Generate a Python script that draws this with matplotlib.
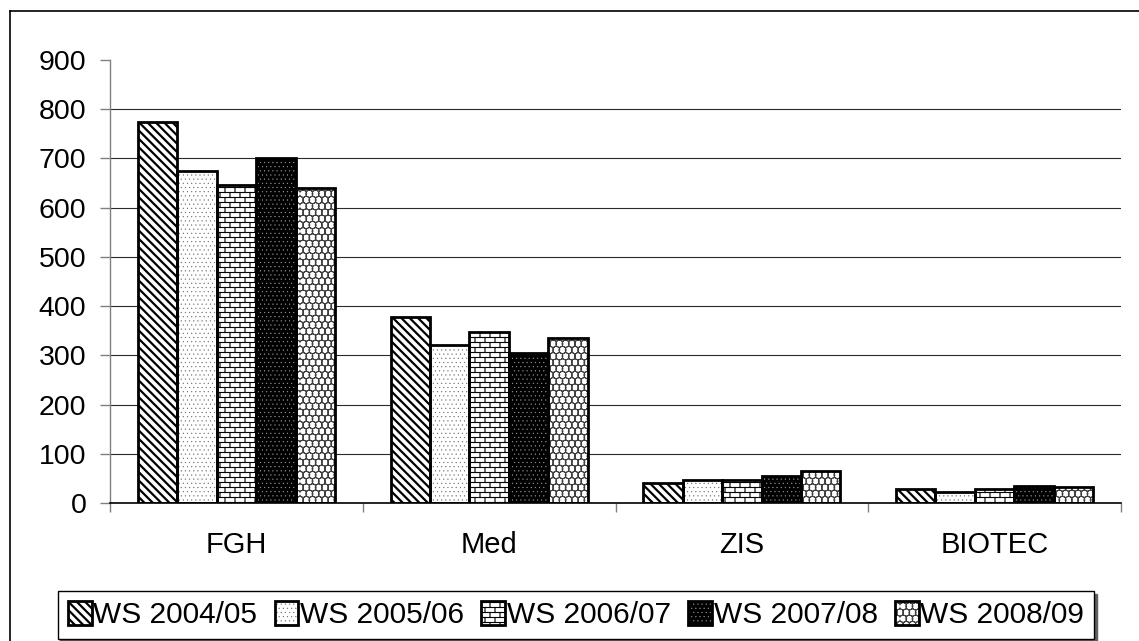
import numpy as np
import matplotlib
matplotlib.use('Agg')
import matplotlib.pyplot as plt
import matplotlib.hatch as mhatch
from matplotlib.path import Path
from matplotlib.patches import Patch
from matplotlib.lines import Line2D
from matplotlib.legend_handler import HandlerTuple
from matplotlib.ticker import FixedLocator

# ---------------- data ----------------
categories = ['FGH', 'Med', 'ZIS', 'BIOTEC']
series_names = ['WS 2004/05', 'WS 2005/06', 'WS 2006/07', 'WS 2007/08', 'WS 2008/09']
ws_2004_05 = [774, 378, 40, 28]
ws_2005_06 = [675, 322, 47, 23]
ws_2006_07 = [646, 347, 46, 28]
ws_2007_08 = [701, 305, 54, 35]
ws_2008_09 = [640, 335, 66, 33]
y_ticks = [0, 100, 200, 300, 400, 500, 600, 700, 800, 900]
series = [ws_2004_05, ws_2005_06, ws_2006_07, ws_2007_08, ws_2008_09]

# ---------------- custom hatch patterns ----------------
BRICK = '+-'
WEAVE = 'oO'


def _brick_path(rows=20, cols=10):
    verts, codes = [], []
    for i in range(-1, rows):
        y0 = (i + 0.5) / rows
        y1 = (i + 1.5) / rows
        if i >= 0:
            verts += [(0.0, y0), (1.0, y0)]
            codes += [Path.MOVETO, Path.LINETO]
        shift = 0.5 if i % 2 else 0.0
        for j in range(cols + 1):
            x = (j + shift) / cols
            if x > 1.0:
                continue
            verts += [(x, y0), (x, y1)]
            codes += [Path.MOVETO, Path.LINETO]
    return Path(np.array(verts), np.array(codes, dtype=Path.code_type))


def _weave_path(n=16, r=0.6):
    circ = Path.unit_circle()
    cv = circ.vertices
    ring_v = np.concatenate([cv, cv[::-1] * 0.88])
    ring_c = np.concatenate([circ.codes, circ.codes])
    step = 1.0 / n
    vs, cs = [], []
    for row in range(n + 1):
        if row % 2 == 0:
            cols = np.linspace(0, 1, n + 1)
        else:
            cols = np.linspace(step / 2, 1 - step / 2, n)
        for c in cols:
            vs.append(ring_v * step * r + [c, row * step])
            cs.append(ring_c)
    return Path(np.concatenate(vs), np.concatenate(cs))


_orig_get_path = mhatch.get_path


def _custom_get_path(hatchpattern, density=6):
    if hatchpattern == BRICK:
        return _brick_path()
    if hatchpattern == WEAVE:
        return _weave_path()
    return _orig_get_path(hatchpattern, density)


mhatch.get_path = _custom_get_path

# ---------------- styling ----------------
plt.rcParams['font.family'] = ['Liberation Sans', 'DejaVu Sans']

DIAG = '\\\\\\\\'
DOTS = '....'
styles = [
    dict(face='white', hcolor='black', hatch=DIAG),
    dict(face='white', hcolor='#6a6a6a', hatch=DOTS),
    dict(face='white', hcolor='black', hatch=BRICK),
    dict(face='black', hcolor='#9a9a9a', hatch=DOTS),
    dict(face='white', hcolor='#404040', hatch=WEAVE),
]
hatch_lw = {DIAG: 1.6, DOTS: 0.3, BRICK: 0.8, WEAVE: 0.35}

W, H = 1139, 641
fig = plt.figure(figsize=(W / 100, H / 100), dpi=100)
ax = fig.add_axes([110 / W, 1 - 503 / H, (1121 - 110) / W, (503 - 60) / H])

bar_w = 0.156
xpos = np.arange(len(categories))
handles = []
for k, (vals, st) in enumerate(zip(series, styles)):
    x = xpos + (k - 2) * bar_w
    ax.bar(x, vals, bar_w, color=st['face'], edgecolor=st['hcolor'],
           hatch=st['hatch'], linewidth=0, zorder=2)
    ax.bar(x, vals, bar_w, fill=False, edgecolor='black', linewidth=2, zorder=3)
    hf = Patch(facecolor=st['face'], edgecolor=st['hcolor'], hatch=st['hatch'], linewidth=0)
    ho = Patch(fill=False, edgecolor='black', linewidth=2)
    handles.append((hf, ho))

ax.set_xlim(-0.5, len(categories) - 0.5)
ax.set_ylim(0, 900)
ax.set_yticks(y_ticks)
ax.set_xticks(xpos)
ax.set_xticklabels(categories)
ax.xaxis.set_minor_locator(FixedLocator(np.arange(len(categories) + 1) - 0.5))
ax.tick_params(axis='x', which='major', length=0, pad=20, labelsize=21)
ax.tick_params(axis='x', which='minor', length=6.5, width=1, color='#808080', direction='out')
ax.tick_params(axis='y', length=7, width=1, color='#808080', pad=10, labelsize=20.5)

for s in ['top', 'right']:
    ax.spines[s].set_visible(False)
ax.spines['left'].set_color('#808080')
ax.spines['left'].set_linewidth(1)
ax.spines['bottom'].set_color('black')
ax.spines['bottom'].set_linewidth(1.2)

ax.set_axisbelow(True)
ax.grid(axis='y', color='#2a2a2a', linewidth=0.8)
gl = ax.yaxis.get_gridlines()
gl[0].set_visible(False)
gl[-1].set_visible(False)

leg = fig.legend(handles, series_names, loc='center',
                 bbox_to_anchor=(576 / W, 1 - 615 / H), ncol=5, fontsize=21.5,
                 frameon=True, fancybox=False, edgecolor='black', framealpha=1,
                 shadow={'color': '#606060', 'alpha': 1},
                 handlelength=0.8, handleheight=0.85, handletextpad=0.05,
                 columnspacing=0.58, borderpad=0.34, borderaxespad=0,
                 handler_map={tuple: HandlerTuple(ndivide=1)})
leg.get_frame().set_linewidth(1.0)

# outer chart frame
fig.add_artist(Line2D([10 / W, 1], [1 - 11 / H, 1 - 11 / H], transform=fig.transFigure,
                      color='black', linewidth=1.2))
fig.add_artist(Line2D([10 / W, 10 / W], [0, 1 - 11 / H], transform=fig.transFigure,
                      color='black', linewidth=1.2))


# per-artist hatch line width: set the rc value while each hatched patch draws
def _wrap_draw(p, lw):
    orig = p.draw

    def draw(renderer, _orig=orig, _lw=lw, _p=p):
        with plt.rc_context({'hatch.linewidth': _lw}):
            if hasattr(_p, 'set_hatch_linewidth'):
                _p.set_hatch_linewidth(_lw)
            _orig(renderer)
    p.draw = draw


for p in fig.findobj(Patch):
    h = p.get_hatch()
    if h in hatch_lw:
        _wrap_draw(p, hatch_lw[h])

fig.savefig('out.png', dpi=100)
